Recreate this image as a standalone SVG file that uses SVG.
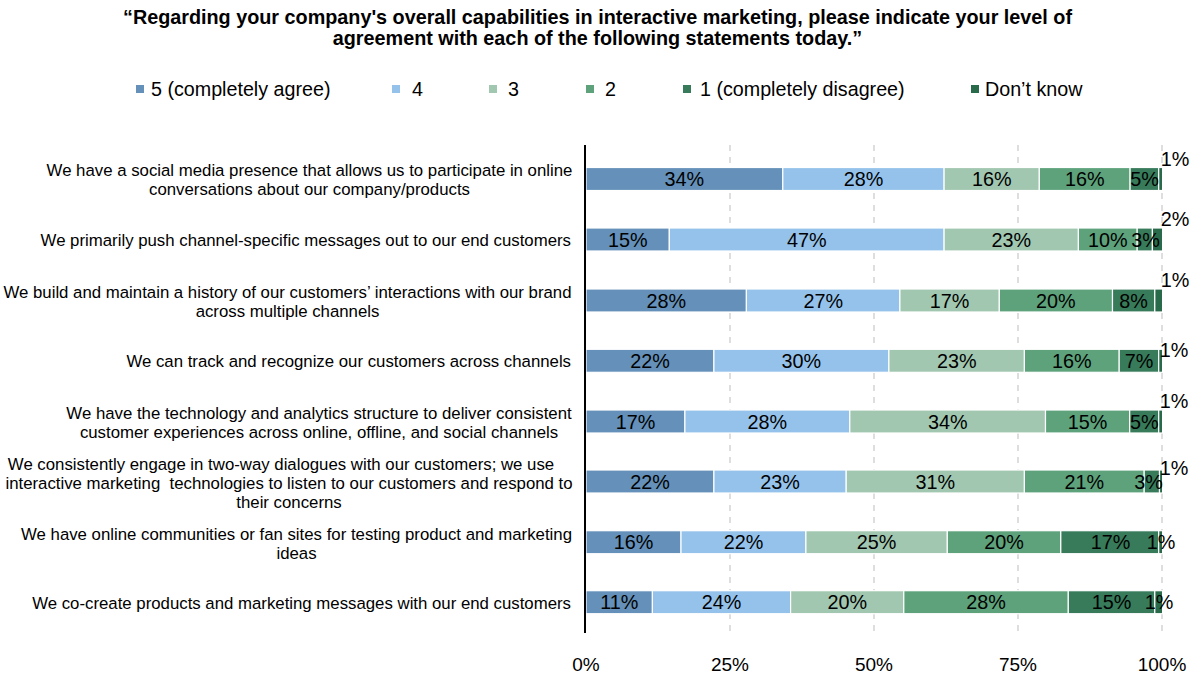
<svg xmlns="http://www.w3.org/2000/svg" width="1194" height="677" viewBox="0 0 1194 677">
<style>
text{font-family:"Liberation Sans",Arial,sans-serif;fill:#000}
.t{font-size:19.8px;font-weight:bold;text-anchor:middle}
.lg{font-size:19.7px}
.cat{font-size:16.8px;text-anchor:middle}
.cate{font-size:16.8px;text-anchor:end}
.v{font-size:19.8px;text-anchor:middle}
.tick{font-size:19px;text-anchor:middle}
.grid{stroke:#BDBDBD;stroke-width:1;stroke-dasharray:6,6}
.s5{fill:#6490B9}.s4{fill:#95C2EB}.s3{fill:#A1C7B0}.s2{fill:#5DA27B}.s1{fill:#377B5A}.sd{fill:#286A49}
.bar rect{stroke:#fff;stroke-width:1.2}
</style>
<rect width="1194" height="677" fill="#fff"/>
<g id="title">
<text class="t" x="597.5" y="24">“Regarding your company's overall capabilities in interactive marketing, please indicate your level of</text>
<text class="t" x="597.5" y="45">agreement with each of the following statements today.”</text>
</g>
<g id="legend">
<rect class="s5" x="136" y="85" width="8" height="8"/><text class="lg" x="151" y="96">5 (completely agree)</text>
<rect class="s4" x="392" y="85" width="8" height="8"/><text class="lg" x="412" y="96">4</text>
<rect class="s3" x="489" y="85" width="8" height="8"/><text class="lg" x="508" y="96">3</text>
<rect class="s2" x="586" y="85" width="8" height="8"/><text class="lg" x="605" y="96">2</text>
<rect class="s1" x="683" y="85" width="8" height="8"/><text class="lg" x="700" y="96">1 (completely disagree)</text>
<rect class="sd" x="971" y="85" width="8" height="8"/><text class="lg" x="985" y="96">Don’t know</text>
</g>
<g id="gridlines">
<line class="grid" x1="730" y1="145" x2="730" y2="633"/>
<line class="grid" x1="874" y1="145" x2="874" y2="633"/>
<line class="grid" x1="1018" y1="145" x2="1018" y2="633"/>
<line class="grid" x1="1162" y1="145" x2="1162" y2="633"/>
</g>
<g id="categories">
<text class="cat" x="309.5" y="176">We have a social media presence that allows us to participate in online</text>
<text class="cat" x="309.5" y="195">conversations about our company/products</text>
<text class="cate" x="571" y="246">We primarily push channel-specific messages out to our end customers</text>
<text class="cat" x="287.5" y="298">We build and maintain a history of our customers’ interactions with our brand</text>
<text class="cat" x="287.5" y="317">across multiple channels</text>
<text class="cate" x="571" y="367">We can track and recognize our customers across channels</text>
<text class="cat" x="319" y="419">We have the technology and analytics structure to deliver consistent</text>
<text class="cat" x="319" y="438">customer experiences across online, offline, and social channels</text>
<text class="cat" x="281" y="470">We consistently engage in two-way dialogues with our customers; we use</text>
<text class="cat" x="289" y="489" xml:space="preserve">interactive marketing  technologies to listen to our customers and respond to</text>
<text class="cat" x="289" y="508">their concerns</text>
<text class="cat" x="296.5" y="540">We have online communities or fan sites for testing product and marketing</text>
<text class="cat" x="296.5" y="559">ideas</text>
<text class="cate" x="571" y="609">We co-create products and marketing messages with our end customers</text>
</g>
<g id="row1" class="bar">
<rect class="s5" x="586" y="167.5" width="196.8" height="23"/>
<rect class="s4" x="782.8" y="167.5" width="161.3" height="23"/>
<rect class="s3" x="944.1" y="167.5" width="95.2" height="23"/>
<rect class="s2" x="1039.3" y="167.5" width="90.8" height="23"/>
<rect class="s1" x="1130.1" y="167.5" width="28.6" height="23"/>
<rect class="sd" x="1158.7" y="167.5" width="3.9" height="23"/>
<text class="v" x="684.4" y="186">34%</text><text class="v" x="863.5" y="186">28%</text><text class="v" x="991.7" y="186">16%</text><text class="v" x="1084.7" y="186">16%</text><text class="v" x="1144.5" y="186">5%</text><text class="v" x="1175" y="166">1%</text>
</g>
<g id="row2" class="bar">
<rect class="s5" x="586" y="228" width="83.3" height="23"/>
<rect class="s4" x="669.3" y="228" width="274.8" height="23"/>
<rect class="s3" x="944.1" y="228" width="134.3" height="23"/>
<rect class="s2" x="1078.4" y="228" width="58.8" height="23"/>
<rect class="s1" x="1137.2" y="228" width="15.2" height="23"/>
<rect class="sd" x="1152.4" y="228" width="10.2" height="23"/>
<text class="v" x="627.7" y="246.5">15%</text><text class="v" x="806.7" y="246.5">47%</text><text class="v" x="1011.3" y="246.5">23%</text><text class="v" x="1107.8" y="246.5">10%</text><text class="v" x="1145.5" y="246.5">3%</text><text class="v" x="1175" y="226">2%</text>
</g>
<g id="row3" class="bar">
<rect class="s5" x="586" y="289" width="160.4" height="23"/>
<rect class="s4" x="746.4" y="289" width="153.5" height="23"/>
<rect class="s3" x="899.9" y="289" width="99.4" height="23"/>
<rect class="s2" x="999.3" y="289" width="113.2" height="23"/>
<rect class="s1" x="1112.5" y="289" width="42.3" height="23"/>
<rect class="sd" x="1154.8" y="289" width="7.8" height="23"/>
<text class="v" x="666.2" y="307.5">28%</text><text class="v" x="823.2" y="307.5">27%</text><text class="v" x="949.6" y="307.5">17%</text><text class="v" x="1055.9" y="307.5">20%</text><text class="v" x="1133.6" y="307.5">8%</text><text class="v" x="1175" y="287">1%</text>
</g>
<g id="row4" class="bar">
<rect class="s5" x="586" y="349.3" width="127.9" height="23"/>
<rect class="s4" x="713.9" y="349.3" width="175" height="23"/>
<rect class="s3" x="888.9" y="349.3" width="135.5" height="23"/>
<rect class="s2" x="1024.4" y="349.3" width="94.8" height="23"/>
<rect class="s1" x="1119.2" y="349.3" width="39.5" height="23"/>
<rect class="sd" x="1158.7" y="349.3" width="3.9" height="23"/>
<text class="v" x="650" y="367.8">22%</text><text class="v" x="801.4" y="367.8">30%</text><text class="v" x="956.7" y="367.8">23%</text><text class="v" x="1071.8" y="367.8">16%</text><text class="v" x="1139" y="367.8">7%</text><text class="v" x="1174" y="357">1%</text>
</g>
<g id="row5" class="bar">
<rect class="s5" x="586" y="410" width="98.9" height="23"/>
<rect class="s4" x="684.9" y="410" width="164.9" height="23"/>
<rect class="s3" x="849.8" y="410" width="195.7" height="23"/>
<rect class="s2" x="1045.5" y="410" width="84.2" height="23"/>
<rect class="s1" x="1129.7" y="410" width="29" height="23"/>
<rect class="sd" x="1158.7" y="410" width="3.9" height="23"/>
<text class="v" x="635.5" y="428.5">17%</text><text class="v" x="767.4" y="428.5">28%</text><text class="v" x="947.7" y="428.5">34%</text><text class="v" x="1087.6" y="428.5">15%</text><text class="v" x="1144.2" y="428.5">5%</text><text class="v" x="1174" y="408">1%</text>
</g>
<g id="row6" class="bar">
<rect class="s5" x="586" y="470" width="127.9" height="23"/>
<rect class="s4" x="713.9" y="470" width="132.3" height="23"/>
<rect class="s3" x="846.2" y="470" width="178.2" height="23"/>
<rect class="s2" x="1024.4" y="470" width="119.8" height="23"/>
<rect class="s1" x="1144.2" y="470" width="15.3" height="23"/>
<rect class="sd" x="1159.5" y="470" width="3.1" height="23"/>
<text class="v" x="650" y="488.5">22%</text><text class="v" x="780" y="488.5">23%</text><text class="v" x="935.3" y="488.5">31%</text><text class="v" x="1084.3" y="488.5">21%</text><text class="v" x="1148.5" y="488.5">3%</text><text class="v" x="1174" y="475">1%</text>
</g>
<g id="row7" class="bar">
<rect class="s5" x="586" y="530.7" width="95" height="23"/>
<rect class="s4" x="681" y="530.7" width="124.9" height="23"/>
<rect class="s3" x="805.9" y="530.7" width="141.4" height="23"/>
<rect class="s2" x="947.3" y="530.7" width="113.5" height="23"/>
<rect class="s1" x="1060.8" y="530.7" width="97.9" height="23"/>
<rect class="sd" x="1158.7" y="530.7" width="3.9" height="23"/>
<text class="v" x="633.5" y="549.2">16%</text><text class="v" x="743.5" y="549.2">22%</text><text class="v" x="876.6" y="549.2">25%</text><text class="v" x="1004" y="549.2">20%</text><text class="v" x="1110.5" y="549.2">17%</text><text class="v" x="1161" y="549.2">1%</text>
</g>
<g id="row8" class="bar">
<rect class="s5" x="586" y="590.7" width="66.4" height="23"/>
<rect class="s4" x="652.4" y="590.7" width="138.2" height="23"/>
<rect class="s3" x="790.6" y="590.7" width="113.2" height="23"/>
<rect class="s2" x="903.8" y="590.7" width="164.5" height="23"/>
<rect class="s1" x="1068.3" y="590.7" width="86.5" height="23"/>
<rect class="sd" x="1154.8" y="590.7" width="7.8" height="23"/>
<text class="v" x="619.2" y="609.2">11%</text><text class="v" x="721.5" y="609.2">24%</text><text class="v" x="847.2" y="609.2">20%</text><text class="v" x="986" y="609.2">28%</text><text class="v" x="1111.5" y="609.2">15%</text><text class="v" x="1159" y="609.2">1%</text>
</g>
<g id="axis">
<line x1="585" y1="145" x2="585" y2="633" stroke="#000" stroke-width="2"/>
<text class="tick" x="586" y="671">0%</text>
<text class="tick" x="730" y="671">25%</text>
<text class="tick" x="874" y="671">50%</text>
<text class="tick" x="1018" y="671">75%</text>
<text class="tick" x="1162" y="671">100%</text>
</g>
<g id="connectors"/>
</svg>
